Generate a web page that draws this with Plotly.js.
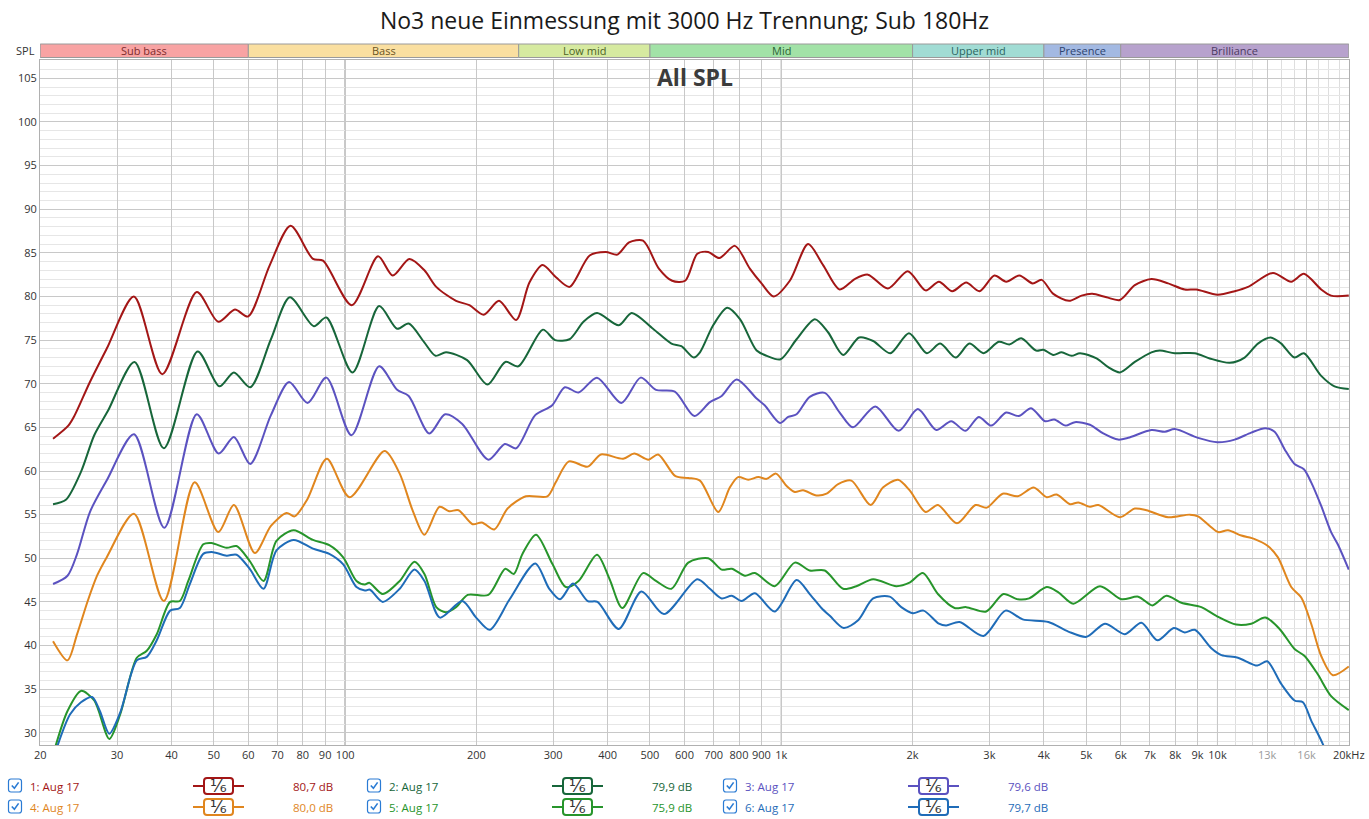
<!DOCTYPE html>
<html>
<head>
<meta charset="utf-8">
<script src="https://cdn.plot.ly/plotly-3.0.1.min.js"></script>
<style>
  html, body { margin: 0; padding: 0; background: #fff; }
  #chart { width: 1369px; height: 819px; }
</style>
</head>
<body>
<div id="chart"></div>
<script>
// ---- data ----
var chartTitle = 'No3 neue Einmessung mit 3000 Hz Trennung; Sub 180Hz';

var f1 = [21.4, 23.2, 24.0, 26.0, 28.4, 32.8, 38.1, 45.7, 51.2, 55.9, 59.9, 67.2, 75.0, 84.4, 89.0, 103.6, 119, 128.6, 140.4, 152, 161.8, 179.6, 192.7, 207.8, 225.4, 246.6, 264.6, 283.6, 304.4, 327, 363.6, 396, 421, 447.8, 482, 524, 562, 602, 642, 680, 721, 783, 847, 901, 961, 1046, 1152, 1247, 1361, 1474, 1580, 1756, 1950, 2142, 2298, 2466, 2654, 2846, 3080, 3278, 3515, 3770, 3954, 4204, 4568, 4880, 5164, 5568, 5974, 6464, 7056, 7706, 8414, 8944, 10000, 10950, 11750, 13400, 14760, 15780, 17290, 18220, 20000];
var spl1 = [63.7, 65.2, 66.4, 70.2, 74.0, 80.0, 71.1, 80.5, 77.1, 78.5, 77.7, 83.6, 88.1, 84.3, 84.1, 79.0, 84.6, 82.4, 84.3, 83.0, 81.1, 79.5, 79.0, 77.9, 79.5, 77.3, 81.6, 83.6, 82.2, 81.1, 84.7, 85.1, 84.8, 86.2, 86.4, 83.2, 81.8, 81.8, 84.9, 85.1, 84.4, 85.8, 83.2, 81.5, 80.0, 81.8, 86.0, 83.6, 80.8, 82.0, 82.5, 80.9, 82.9, 80.7, 81.7, 80.6, 81.6, 80.6, 82.4, 81.7, 82.4, 81.5, 81.9, 80.3, 79.5, 80.1, 80.3, 79.9, 79.6, 81.3, 82.0, 81.5, 80.8, 80.8, 80.2, 80.6, 81.1, 82.7, 81.7, 82.6, 80.8, 80.1, 80.1];

var f2 = [21.4, 22.9, 24.8, 26.6, 28.6, 32.9, 38.4, 45.9, 51.5, 55.6, 60.6, 67.6, 74.7, 84.8, 90.6, 104, 119.7, 131.6, 139.9, 151.6, 161.2, 170.4, 190.4, 212, 233, 249.6, 284, 303, 327, 352, 378, 424, 454, 508, 560, 590, 630, 651, 698, 752, 804, 878, 926, 996, 1084, 1194, 1280, 1386, 1508, 1624, 1778, 1962, 2156, 2314, 2510, 2700, 2908, 3152, 3334, 3548, 3838, 3990, 4204, 4392, 4630, 4840, 5282, 5618, 5974, 6464, 7056, 7376, 7982, 8872, 9600, 10670, 11540, 12380, 13240, 14000, 15020, 15780, 17290, 18550, 20000];
var spl2 = [56.2, 56.7, 59.9, 64.1, 66.9, 72.5, 62.6, 73.7, 69.7, 71.3, 69.6, 75.1, 79.9, 76.6, 77.6, 71.3, 78.9, 76.3, 76.9, 74.8, 73.2, 73.6, 72.7, 69.9, 72.5, 72.0, 76.2, 75.0, 75.1, 77.1, 78.1, 76.7, 78.1, 76.3, 74.6, 74.3, 73.0, 73.6, 76.7, 78.7, 77.4, 73.8, 73.2, 72.8, 75.1, 77.4, 75.9, 73.3, 75.3, 74.9, 73.5, 75.8, 73.5, 74.6, 73.0, 74.6, 73.5, 74.8, 74.5, 75.2, 73.8, 73.9, 73.3, 73.6, 73.2, 73.5, 72.9, 71.9, 71.3, 72.5, 73.6, 73.8, 73.5, 73.5, 72.9, 72.4, 73.0, 74.6, 75.3, 74.6, 73.0, 73.5, 70.9, 69.7, 69.4];

var f3 = [21.4, 23.1, 24.3, 26.0, 28.4, 32.8, 38.5, 45.7, 51.3, 55.6, 60.6, 67.6, 74.4, 82, 90.6, 103.4, 119.7, 131.6, 139.9, 156, 169.6, 185.6, 213, 232.4, 246.6, 272.8, 298, 319, 343, 378, 430, 476, 516, 570, 632, 686, 730, 790, 878, 917, 993, 1037, 1084, 1162, 1258, 1361, 1460, 1642, 1858, 2056, 2266, 2452, 2644, 2836, 3028, 3278, 3502, 3738, 4026, 4226, 4486, 4712, 5100, 5472, 5920, 6242, 7056, 7574, 7982, 9026, 10000, 10950, 11950, 12870, 13520, 14250, 15020, 15780, 16400, 17290, 18220, 18870, 20000];
var spl3 = [47.05, 48.0, 50.5, 55.3, 58.9, 64.2, 53.5, 66.5, 62.0, 63.9, 60.8, 66.4, 70.2, 67.8, 70.7, 64.1, 72.0, 69.3, 68.6, 64.3, 66.5, 65.4, 61.3, 63.1, 62.6, 66.4, 67.5, 69.6, 69.0, 70.7, 67.8, 70.7, 69.3, 69.1, 66.3, 67.9, 68.6, 70.5, 68.3, 67.5, 65.5, 66.2, 66.5, 68.5, 68.95, 66.7, 65.0, 67.4, 64.6, 67.1, 64.7, 65.7, 64.6, 66.2, 65.2, 66.7, 66.3, 67.2, 65.7, 65.9, 65.2, 65.6, 65.3, 64.3, 63.6, 63.8, 64.7, 64.5, 64.8, 63.8, 63.3, 63.6, 64.4, 64.9, 64.5, 62.5, 60.8, 60.2, 58.7, 56.0, 53.0, 51.6, 48.7];

var f4 = [21.4, 23.1, 24.3, 25.7, 27.0, 28.4, 32.8, 38.4, 45.2, 51.2, 55.6, 62.1, 67.6, 73.4, 76.6, 82, 90.8, 102.4, 123.2, 133.4, 142.8, 152, 164.6, 173.2, 182, 196, 205.8, 219.8, 235.8, 259.8, 291, 304, 326, 360, 386, 434, 460, 496, 522, 572, 612, 651, 717, 762, 796, 840, 886, 926, 972, 1028, 1074, 1122, 1204, 1270, 1350, 1448, 1602, 1710, 1852, 1968, 2142, 2286, 2528, 2788, 2958, 3218, 3484, 3790, 4060, 4278, 4592, 4798, 5100, 5330, 5974, 6464, 6874, 7706, 8640, 9026, 9600, 10040, 10570, 11340, 12170, 13050, 13760, 14760, 15560, 16400, 17290, 18390, 20000];
var spl4 = [40.5, 38.3, 41.3, 45.1, 48.0, 50.1, 55.1, 45.1, 58.7, 53.0, 56.1, 50.6, 53.7, 55.2, 54.8, 56.8, 61.4, 57.0, 62.3, 59.7, 55.5, 52.7, 55.9, 55.4, 55.5, 53.9, 54.1, 53.3, 55.7, 57.1, 57.1, 58.7, 61.1, 60.5, 61.9, 61.4, 62.0, 61.3, 61.9, 59.4, 59.2, 58.9, 55.3, 58.1, 59.3, 59.0, 59.3, 59.1, 59.7, 58.3, 57.6, 57.8, 57.2, 57.4, 58.5, 58.9, 56.1, 58.1, 59.0, 57.8, 55.3, 56.1, 54.0, 56.1, 55.8, 57.4, 57.1, 58.1, 57.0, 57.3, 56.2, 56.4, 55.9, 56.1, 54.7, 55.7, 55.5, 54.7, 55.0, 54.8, 53.7, 53.0, 53.2, 52.6, 52.2, 51.4, 50.1, 46.7, 45.5, 42.5, 38.8, 36.6, 37.6];

var f5 = [21.4, 23.1, 24.8, 26.6, 28.8, 30.5, 33.3, 35.1, 37.0, 39.7, 41.8, 43.7, 47.3, 49.4, 53.5, 56.4, 60.4, 65.0, 69.6, 76.2, 84.4, 92.0, 99, 106.2, 111, 113.6, 122, 133.4, 144.2, 152, 161.8, 170.2, 179.6, 191, 213, 233, 243.6, 255, 274, 299, 320.6, 343, 378, 404, 432, 482, 516, 560, 612, 680, 730, 770, 826, 870, 966, 1074, 1162, 1258, 1386, 1486, 1624, 1836, 1968, 2112, 2286, 2496, 2654, 2950, 3230, 3484, 3700, 4060, 4318, 4672, 5378, 6026, 6580, 7094, 7638, 8266, 9184, 9940, 11040, 11950, 12870, 13880, 15020, 15840, 16980, 18220, 20000];
var spl5 = [27.5, 32.5, 34.8, 33.7, 29.3, 32.1, 38.6, 39.4, 41.3, 45.0, 45.1, 47.4, 51.6, 51.75, 51.2, 51.4, 49.7, 47.4, 52.0, 53.2, 52.1, 51.5, 50.1, 47.4, 47.0, 47.2, 45.9, 47.4, 49.6, 48.2, 44.4, 43.8, 44.4, 45.8, 45.8, 48.8, 48.2, 50.5, 52.7, 49.3, 46.7, 47.4, 50.4, 47.6, 44.3, 48.3, 47.4, 46.5, 49.5, 50.0, 48.7, 48.8, 48.0, 48.3, 46.8, 49.5, 48.6, 48.6, 46.5, 46.8, 47.6, 46.8, 47.2, 48.3, 45.9, 44.3, 44.4, 43.9, 45.9, 45.3, 45.4, 46.7, 46.1, 44.8, 46.8, 45.3, 45.6, 44.6, 45.7, 44.9, 44.4, 43.4, 42.4, 42.5, 43.2, 41.9, 39.6, 38.8, 36.7, 34.2, 32.6];

var f6 = [21.4, 23.4, 24.8, 26.3, 27.4, 28.8, 30.5, 33.3, 35.1, 37.0, 39.7, 41.8, 44.1, 47.3, 49.8, 53.5, 56.4, 60.4, 65.0, 69.6, 76.2, 84.4, 92.0, 99, 106.2, 111, 114, 122, 133.4, 144.2, 152, 165, 185.6, 199.7, 214.6, 238.4, 272.8, 293.8, 311, 333, 360, 379, 424, 478, 538, 642, 686, 730, 770, 811, 870, 966, 1084, 1162, 1236, 1292, 1390, 1500, 1624, 1772, 1884, 2004, 2119, 2298, 2388, 2562, 2908, 3266, 3576, 4096, 4550, 5012, 5520, 6134, 6694, 7284, 7942, 8414, 8872, 9682, 10210, 11140, 12340, 13000, 14000, 15020, 15700, 16400, 17440, 18200];
var spl6 = [27.0, 32.1, 33.5, 34.1, 32.5, 29.9, 32.3, 38.3, 38.7, 40.6, 44.0, 44.3, 47.1, 50.5, 50.7, 50.3, 50.4, 48.8, 46.5, 50.9, 52.1, 51.1, 50.5, 49.3, 46.7, 46.3, 46.4, 45.0, 46.5, 48.7, 47.4, 43.2, 45.1, 43.2, 41.8, 45.3, 49.4, 46.5, 45.3, 47.1, 45.1, 45.0, 41.9, 46.2, 43.6, 47.6, 46.5, 45.4, 45.7, 45.1, 46.0, 43.9, 47.5, 45.9, 44.3, 43.4, 42.0, 42.9, 45.4, 45.6, 44.4, 43.7, 44.0, 42.5, 42.3, 42.7, 41.1, 44.0, 43.0, 42.7, 41.6, 41.0, 42.5, 41.3, 42.6, 40.6, 42.0, 41.5, 41.8, 39.7, 38.9, 38.6, 37.7, 38.2, 35.6, 33.7, 33.5, 31.4, 28.7, 26.0];

var seriesNames  = ['1: Aug 17', '2: Aug 17', '3: Aug 17', '4: Aug 17', '5: Aug 17', '6: Aug 17'];
var seriesLevels = ['80,7 dB', '79,9 dB', '79,6 dB', '80,0 dB', '75,9 dB', '79,7 dB'];
var seriesColors = ['#a31616', '#17663a', '#5b52c0', '#e0861e', '#27952b', '#1f6cb8'];
var seriesX = [f1, f2, f3, f4, f5, f6];
var seriesY = [spl1, spl2, spl3, spl4, spl5, spl6];

var tickVals = [20, 30, 40, 50, 60, 70, 80, 90, 100, 200, 300, 400, 500, 600, 700, 800, 900,
  1000, 2000, 3000, 4000, 5000, 6000, 7000, 8000, 9000, 10000, 13000, 16000, 20000];
var tickText = ['20', '30', '40', '50', '60', '70', '80', '90', '100', '200', '300', '400', '500', '600', '700', '800', '900',
  '1k', '2k', '3k', '4k', '5k', '6k', '7k', '8k', '9k', '10k',
  '<span style="color:#9a9a9a">13k</span>', '<span style="color:#9a9a9a">16k</span>', '20kHz'];
var minorVals = [11000, 12000, 14000, 15000, 17000, 18000, 19000];
var decadeLines = [100, 1000, 10000];

var bandNames  = ['Sub bass', 'Bass', 'Low mid', 'Mid', 'Upper mid', 'Presence', 'Brilliance'];
var bandEdges  = [20, 60, 250, 500, 2000, 4000, 6000, 20000];
var bandFills  = ['#f8a3a3', '#fadfa0', '#d6eaa0', '#a2e2a7', '#a1dcd4', '#a3b9e2', '#b7a2cd'];
var bandInk    = ['#7d2b2b', '#6a5524', '#4d6324', '#2c6433', '#2b6460', '#2e436f', '#4c3a63'];

// ---- page geometry ----
var W = 1369, H = 819;
var L = 40, R = 20, T = 60, B = 74;
function px(x) { return (x - L) / (W - L - R); }
function py(y) { return (H - B - y) / (H - T - B); }
function roundRect(x0, y0, x1, y1, r) {
  function p(x, y) { return px(x) + ',' + py(y); }
  return 'M' + p(x0 + r, y0) + ' L' + p(x1 - r, y0) + ' Q' + p(x1, y0) + ' ' + p(x1, y0 + r) +
    ' L' + p(x1, y1 - r) + ' Q' + p(x1, y1) + ' ' + p(x1 - r, y1) +
    ' L' + p(x0 + r, y1) + ' Q' + p(x0, y1) + ' ' + p(x0, y1 - r) +
    ' L' + p(x0, y0 + r) + ' Q' + p(x0, y0) + ' ' + p(x0 + r, y0) + ' Z';
}

var font = '"Open Sans", "Noto Sans", "DejaVu Sans", sans-serif';

var traces = [];
for (var i = 0; i < seriesX.length; i++) {
  traces.push({
    x: seriesX[i], y: seriesY[i],
    type: 'scatter', mode: 'lines',
    name: seriesNames[i],
    line: { color: seriesColors[i], width: 2, shape: 'spline', smoothing: 0.8 },
    hoverinfo: 'skip', showlegend: false
  });
}

var shapes = [];
var annotations = [];

// darker decade lines
decadeLines.forEach(function (v) {
  shapes.push({ type: 'line', xref: 'x', yref: 'paper', x0: v, x1: v, y0: 0, y1: 1,
    line: { color: '#7a7a7a', width: 1 }, layer: 'between' });
});

// frequency band strip above the plot
for (var b = 0; b < bandNames.length; b++) {
  shapes.push({ type: 'rect', xref: 'x', yref: 'paper',
    x0: bandEdges[b], x1: bandEdges[b + 1], y0: py(57.5), y1: py(44),
    fillcolor: bandFills[b], line: { color: '#9a9a9a', width: 1 } });
  annotations.push({ xref: 'x', yref: 'paper',
    x: (Math.log10(bandEdges[b]) + Math.log10(bandEdges[b + 1])) / 2, y: py(50.8),
    text: bandNames[b], showarrow: false, xanchor: 'center', yanchor: 'middle',
    font: { family: font, size: 11, color: bandInk[b] } });
}
annotations.push({ xref: 'paper', yref: 'paper', x: px(37), y: py(50.5), text: 'SPL',
  showarrow: false, xanchor: 'right', yanchor: 'middle', font: { family: font, size: 11, color: '#333' } });

annotations.push({ xref: 'paper', yref: 'paper', x: 0.5, y: py(77), text: '<b>All SPL</b>',
  showarrow: false, xanchor: 'center', yanchor: 'middle', font: { family: font, size: 23, color: '#3c3c3c' } });

// bottom legend, REW style
var rowY = [786, 807];
var colDx = [0, 359, 715];
for (var s = 0; s < seriesNames.length; s++) {
  var cy = rowY[Math.floor(s / 3)];
  var dx = colDx[s % 3];
  var col = seriesColors[s];
  shapes.push({ type: 'path', xref: 'paper', yref: 'paper', path: roundRect(8.5 + dx, cy - 7, 21.5 + dx, cy + 6, 2.5),
    fillcolor: '#ffffff', line: { color: '#2a7bd4', width: 1.2 } });
  shapes.push({ type: 'path', xref: 'paper', yref: 'paper',
    path: 'M' + px(11.8 + dx) + ',' + py(cy - 0.5) + ' L' + px(14.4 + dx) + ',' + py(cy + 2.3) + ' L' + px(18.6 + dx) + ',' + py(cy - 3.6),
    line: { color: '#2a7bd4', width: 1.6 } });
  shapes.push({ type: 'line', xref: 'paper', yref: 'paper', x0: px(193 + dx), x1: px(244 + dx), y0: py(cy), y1: py(cy),
    line: { color: col, width: 2 } });
  shapes.push({ type: 'path', xref: 'paper', yref: 'paper', path: roundRect(204 + dx, cy - 8, 233 + dx, cy + 8, 3),
    fillcolor: '#ffffff', line: { color: col, width: 2 } });
  annotations.push({ xref: 'paper', yref: 'paper', x: px(28 + dx), y: py(cy), text: seriesNames[s],
    showarrow: false, xanchor: 'left', yanchor: 'middle', font: { family: font, size: 11.5, color: col } });
  annotations.push({ xref: 'paper', yref: 'paper', x: px(218.5 + dx), y: py(cy), text: '\u00b9\u2044\u2086',
    showarrow: false, xanchor: 'center', yanchor: 'middle', font: { family: '"DejaVu Sans", sans-serif', size: 17, color: '#333' } });
  annotations.push({ xref: 'paper', yref: 'paper', x: px(291 + dx), y: py(cy), text: seriesLevels[s],
    showarrow: false, xanchor: 'left', yanchor: 'middle', font: { family: font, size: 11.5, color: col } });
}

var layout = {
  width: W, height: H,
  margin: { l: L, r: R, t: T, b: B, pad: 0 },
  paper_bgcolor: '#ffffff', plot_bgcolor: '#ffffff',
  font: { family: font, size: 11, color: '#333' },
  title: { text: chartTitle, x: 0.5, xref: 'container', xanchor: 'center',
    y: 1 - 21 / H, yref: 'container', yanchor: 'middle', font: { family: font, size: 23, color: '#1a1a1a' } },
  showlegend: false,
  hovermode: false,
  xaxis: {
    type: 'log', range: [Math.log10(20) - 0.0005, Math.log10(20000) + 0.0005],
    tickmode: 'array', tickvals: tickVals, ticktext: tickText,
    ticks: '', showgrid: true, gridcolor: '#c8c8c8', gridwidth: 1,
    showline: true, mirror: true, linecolor: '#b0b0b0', zeroline: false,
    tickfont: { family: font, size: 11, color: '#333' },
    minor: { tickmode: 'array', tickvals: minorVals, showgrid: true, gridcolor: '#dedede', ticks: '' },
    fixedrange: true
  },
  yaxis: {
    range: [28.6, 107.1], tick0: 30, dtick: 5,
    ticks: '', showgrid: true, gridcolor: '#c8c8c8', gridwidth: 1,
    showline: true, mirror: true, linecolor: '#b0b0b0', zeroline: false,
    tickfont: { family: font, size: 11, color: '#333' },
    minor: { dtick: 1, showgrid: true, gridcolor: '#e6e6e6', ticks: '' },
    fixedrange: true
  },
  shapes: shapes,
  annotations: annotations
};

Plotly.newPlot('chart', traces, layout, { displayModeBar: false, staticPlot: true });
</script>
</body>
</html>
